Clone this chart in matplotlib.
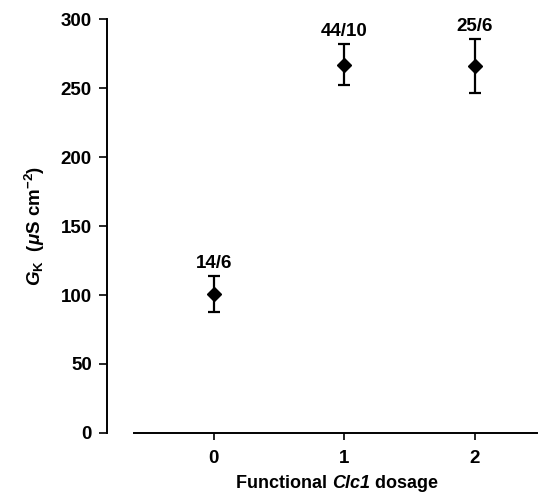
import matplotlib.pyplot as plt
from matplotlib.offsetbox import TextArea, HPacker, AnnotationBbox

dosage = [0, 1, 2]
gk_mean = [101, 267, 266]
gk_err = [13, 15, 19.5]
n_labels = ["14/6", "44/10", "25/6"]
x_ticks = [0, 1, 2]
y_ticks = [0, 50, 100, 150, 200, 250, 300]

plt.rcParams['font.family'] = ['Liberation Sans', 'DejaVu Sans']
plt.rcParams['font.weight'] = 'bold'
plt.rcParams['mathtext.fontset'] = 'custom'
plt.rcParams['mathtext.it'] = 'Liberation Sans:italic:bold'
plt.rcParams['mathtext.rm'] = 'Liberation Sans:bold'
plt.rcParams['mathtext.bf'] = 'Liberation Sans:bold'

fig = plt.figure(figsize=(5.41, 4.94), dpi=100)
ax = fig.add_axes([0.1978, 0.1235, 0.795, 0.838])

ax.errorbar(dosage, gk_mean, yerr=gk_err, fmt='D', color='black',
            markersize=7.5, elinewidth=1.6, capsize=4.5, capthick=1.6)
for x, y, e, lab in zip(dosage, gk_mean, gk_err, n_labels):
    ax.annotate(lab, xy=(x, y + e), xytext=(0, 3), textcoords='offset points',
                ha='center', va='bottom', fontsize=13.5, fontweight='bold')

ax.set_xlim(-0.82, 2.48)
ax.set_ylim(0, 300)
ax.spines['top'].set_visible(False)
ax.spines['right'].set_visible(False)
ax.spines['bottom'].set_bounds(-0.61, 2.48)
for s in ['left', 'bottom']:
    ax.spines[s].set_linewidth(1.4)
ax.set_xticks(x_ticks)
ax.set_yticks(y_ticks)
ax.tick_params(axis='y', direction='out', length=6, width=1.2, labelsize=13.5, pad=5)
ax.tick_params(axis='x', direction='out', length=5, width=1.2, labelsize=13.5, pad=7)

ax.set_ylabel(r'$G_{\mathrm{K}}$  ($\mathit{\mu}$S cm$^{-2}$)', fontsize=13.5,
              fontweight='bold', labelpad=10)

# x label with italic gene name (mathtext would keep the digit upright)
xl_props = dict(fontsize=13, fontweight='bold', color='black')
parts = [TextArea("Functional ", textprops=xl_props),
         TextArea("Clc1", textprops=dict(xl_props, style='italic')),
         TextArea(" dosage", textprops=xl_props)]
xlabel_box = HPacker(children=parts, align='baseline', pad=0, sep=0)
ab = AnnotationBbox(xlabel_box, (0.623, 0.022), xycoords='figure fraction',
                    box_alignment=(0.5, 0.5), frameon=False)
fig.add_artist(ab)

fig.savefig('out.png', dpi=100)
